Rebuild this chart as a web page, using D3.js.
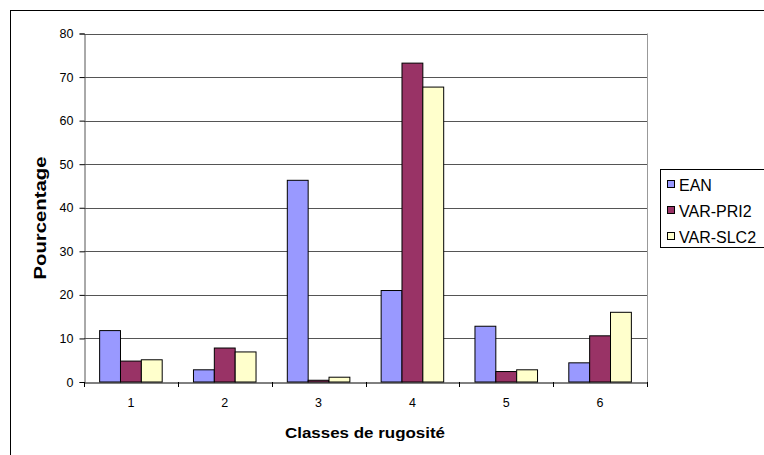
<!DOCTYPE html>
<html><head><meta charset="utf-8">
<script src="https://cdn.jsdelivr.net/npm/d3@7"></script>
<style>body{margin:0;background:#fff}svg{display:block}svg text{font-family:"Liberation Sans",Arial,sans-serif}</style>
</head><body><svg id="c" width="764" height="455"></svg>
<script>
const categories = ["1","2","3","4","5","6"];
const seriesNames = ["EAN","VAR-PRI2","VAR-SLC2"];
const ean = [11.8, 2.8, 46.3, 21.0, 12.8, 4.4];
const pri2 = [4.8, 7.8, 0.4, 73.2, 2.4, 10.6];
const slc2 = [5.1, 6.9, 1.1, 67.7, 2.8, 16.0];
const yTicks = [0,10,20,30,40,50,60,70,80];
const colors = ["#9999FF","#993366","#FFFFCC"];
const series = [ean, pri2, slc2];

const svg = d3.select("#c");
const L = 84, R = 647, T = 33.5, B = 382;
svg.append("rect").attr("x",10.5).attr("y",10.5).attr("width",800).attr("height",500)
  .attr("fill","none").attr("stroke","#000").attr("stroke-width",1);

const x = d3.scaleBand().domain(categories).range([L,R]).paddingInner(0).paddingOuter(0);
const y = d3.scaleLinear().domain([0,80]).range([B,T]);

// gridlines
svg.append("g").selectAll("line").data(yTicks.filter(d=>d>0)).join("line")
  .attr("x1",L).attr("x2",R).attr("y1",d=>Math.round(y(d))+0.5).attr("y2",d=>Math.round(y(d))+0.5)
  .attr("stroke","#555").attr("stroke-width",1);
svg.append("line").attr("x1",R+0.5).attr("x2",R+0.5).attr("y1",T).attr("y2",B).attr("stroke","#999");

// bars
const bw = x.bandwidth()/(3+1.5);
const off = bw*0.75;
series.forEach((s,i)=>{
  svg.append("g").selectAll("rect").data(s).join("rect")
    .attr("x",(d,j)=>x(categories[j])+off+i*bw)
    .attr("y",d=>y(d))
    .attr("width",bw).attr("height",d=>B-y(d))
    .attr("fill",colors[i]).attr("stroke","#000").attr("stroke-width",1);
});

// y axis
const ya = d3.axisLeft(y).tickValues(yTicks).tickSize(5).tickPadding(6);
const gy = svg.append("g").attr("transform",`translate(${L+0.5},0)`).call(ya);
gy.attr("font-family",null);
gy.select(".domain").attr("stroke","#555");
gy.selectAll(".tick line").attr("stroke","#000");
gy.selectAll("text").attr("font-size",12.5).attr("fill","#000");
// x axis
const xa = d3.axisBottom(x).tickSize(0).tickPadding(16);
const gx = svg.append("g").attr("transform",`translate(0,${B+0.5})`).call(xa);
gx.attr("font-family",null);
gx.select(".domain").attr("stroke","#000");
gx.selectAll("text").attr("font-size",12.5).attr("fill","#000");
const bounds = categories.map(c=>x(c)).concat([R]);
svg.append("g").selectAll("line").data(bounds).join("line")
  .attr("x1",d=>Math.round(d)+0.5).attr("x2",d=>Math.round(d)+0.5).attr("y1",B).attr("y2",B+5)
  .attr("stroke","#000");

// titles
svg.append("text").attr("x",285).attr("y",438)
  .attr("font-size",15.5).attr("font-weight","bold")
  .attr("textLength",160).attr("lengthAdjust","spacingAndGlyphs").text("Classes de rugosité");
svg.append("text").attr("transform",`translate(46,${218+61.5}) rotate(-90)`)
  .attr("font-size",16.5).attr("font-weight","bold")
  .attr("textLength",123).attr("lengthAdjust","spacingAndGlyphs").text("Pourcentage");

// legend
const lg = svg.append("g");
lg.append("rect").attr("x",660.5).attr("y",169.5).attr("width",120).attr("height",78)
  .attr("fill","#fff").attr("stroke","#000");
seriesNames.forEach((n,i)=>{
  const cy = 185 + i*26;
  lg.append("rect").attr("x",667.5).attr("y",cy-4.5).attr("width",7).attr("height",7)
    .attr("fill",colors[i]).attr("stroke","#000");
  lg.append("text").attr("x",679).attr("y",cy+5.5).attr("font-size",16).attr("fill","#000").text(n);
});
</script></body></html>
